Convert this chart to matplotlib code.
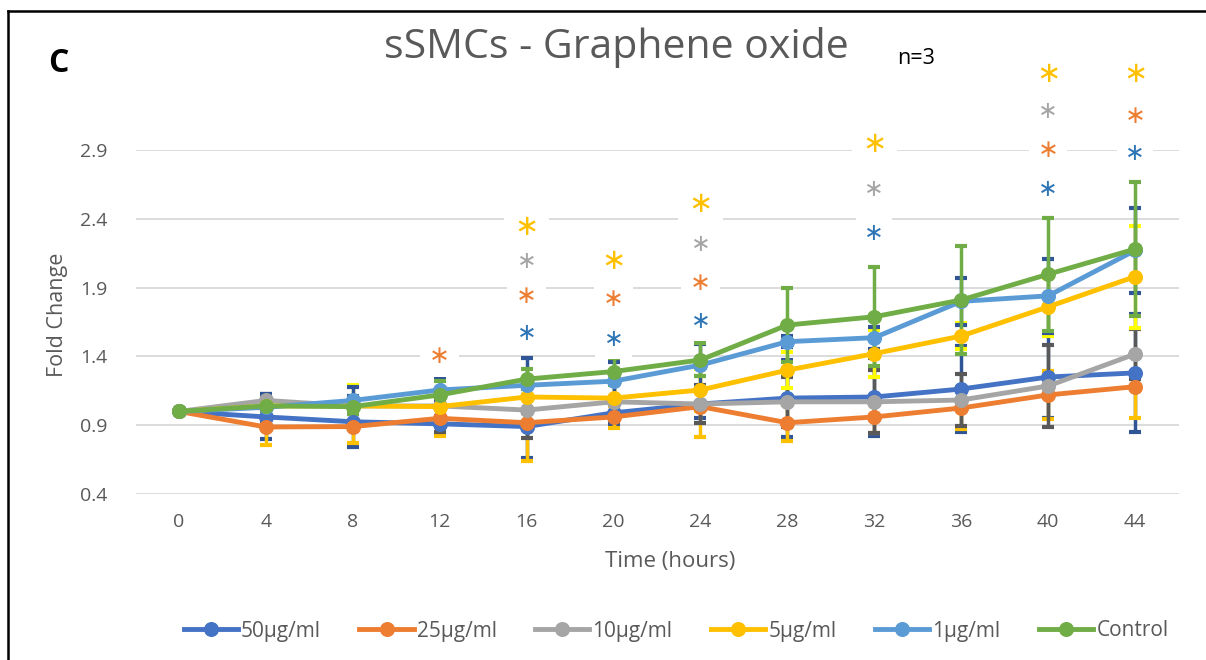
import matplotlib
matplotlib.use("Agg")
import matplotlib.pyplot as plt
from matplotlib.lines import Line2D

# ---- data ----
hours = [0, 4, 8, 12, 16, 20, 24, 28, 32, 36, 40, 44]
series_names = ["50µg/ml", "25µg/ml", "10µg/ml", "5µg/ml", "1µg/ml", "Control"]

v50 = [1.0, 0.96, 0.925, 0.91, 0.89, 0.99, 1.054, 1.097, 1.105, 1.163, 1.25, 1.28]
v25 = [1.0, 0.887, 0.89, 0.95, 0.918, 0.96, 1.035, 0.918, 0.96, 1.025, 1.12, 1.18]
v10 = [1.0, 1.08, 1.04, 1.04, 1.01, 1.07, 1.054, 1.07, 1.07, 1.083, 1.185, 1.417]
v5 = [1.0, 1.04, 1.04, 1.035, 1.105, 1.097, 1.156, 1.30, 1.42, 1.548, 1.76, 1.98]
v1 = [1.0, 1.03, 1.08, 1.156, 1.19, 1.22, 1.337, 1.507, 1.536, 1.80, 1.84, 2.17]
vctrl = [1.0, 1.04, 1.035, 1.12, 1.235, 1.29, 1.374, 1.628, 1.688, 1.81, 1.997, 2.18]

e50 = [0, 0.16, 0.185, 0.06, 0.23, 0.08, 0.10, 0.28, 0.28, 0.31, 0.30, 0.43]
e25 = [0, 0.13, 0.12, 0.13, 0.28, 0.08, 0.22, 0.13, 0.12, 0.15, 0.175, 0.23]
e10 = [0, 0.05, 0.05, 0.19, 0.20, 0.13, 0.14, 0.18, 0.23, 0.19, 0.30, 0.18]
e5 = [0, 0.05, 0.15, 0.10, 0.10, 0.10, 0.15, 0.13, 0.17, 0.095, 0.21, 0.37]
e1 = [0, 0.10, 0.10, 0.08, 0.20, 0.14, 0.15, 0.04, 0.08, 0.17, 0.27, 0.31]
ectrl = [0, 0.05, 0.05, 0.10, 0.07, 0.10, 0.12, 0.27, 0.36, 0.39, 0.41, 0.49]

# significance stars: time, height, series index
star_x = [12, 16, 16, 16, 16, 20, 20, 20, 24, 24, 24, 24, 32, 32, 32, 40, 40, 40, 40, 44, 44, 44]
star_y = [1.40, 1.57, 1.84, 2.09, 2.34, 1.53, 1.82, 2.09, 1.66, 1.93, 2.22, 2.51,
          2.30, 2.62, 2.94, 2.62, 2.90, 3.18, 3.45, 2.88, 3.15, 3.45]
star_s = [1, 0, 1, 2, 3, 0, 1, 3, 0, 1, 2, 3, 0, 2, 3, 0, 1, 2, 3, 0, 1, 3]

yticks = [0.4, 0.9, 1.4, 1.9, 2.4, 2.9]

values = [v50, v25, v10, v5, v1, vctrl]
errors = [e50, e25, e10, e5, e1, ectrl]

line_colors = ["#4472C4", "#ED7D31", "#A5A5A5", "#FFC000", "#5B9BD5", "#70AD47"]
err_colors = ["#2F5597", "#FFC000", "#595959", "#FFFF00", "#2F5597", "#70AD47"]
star_colors = ["#2E75B6", "#ED7D31", "#A5A5A5", "#FFC000"]
star_sizes = [17, 18, 17, 21]

TXT = "#595959"
plt.rcParams['font.family'] = ['Open Sans', 'DejaVu Sans']

fig = plt.figure(figsize=(12.06, 6.6), dpi=100)
ax = fig.add_axes([135.5 / 1206, 1 - 494 / 660, (1178.5 - 135.5) / 1206, (494 - 150) / 660])

for i in range(6):
    ax.errorbar(hours, values[i], yerr=errors[i], fmt='none', ecolor=err_colors[i],
                elinewidth=2.5, capsize=4, capthick=3, zorder=2)
for i in range(6):
    ax.plot(hours, values[i], color=line_colors[i], lw=3.5, marker='o', ms=9.8,
            label=series_names[i], zorder=3 + i)

for x, y, s in zip(star_x, star_y, star_s):
    ax.text(x, y, "∗", ha='center', va='center', fontsize=star_sizes[s],
            color=star_colors[s], family='DejaVu Sans',
            bbox=dict(fc='white', ec='none', boxstyle='square,pad=0.35'),
            clip_on=False, zorder=2.5)

ax.set_xlim(-2, 46)
ax.set_ylim(0.4, 2.9)
ax.set_xticks(hours)
ax.set_xticklabels([str(h) for h in hours])
ax.set_yticks(yticks)
ax.set_yticklabels([f"{t:.1f}" for t in yticks])
ax.grid(axis='y', color='#D9D9D9', lw=1.3)
ax.set_axisbelow(True)
for sp in ax.spines.values():
    sp.set_visible(False)
ax.tick_params(axis='both', length=0, labelsize=14, labelcolor=TXT)
ax.tick_params(axis='y', pad=20)
ax.tick_params(axis='x', pad=14)

fig.text(58 / 1206, 1 - 315 / 660, "Fold Change", rotation=90, ha='center', va='center',
         fontsize=15.5, color=TXT)
fig.text(670 / 1206, 1 - 561 / 660, "Time (hours)", ha='center', va='center',
         fontsize=16, color=TXT)
fig.text(616 / 1206, 1 - 48 / 660, "sSMCs - Graphene oxide", ha='center', va='center',
         fontsize=29.5, color=TXT)
fig.text(916 / 1206, 1 - 58 / 660, "n=3", ha='center', va='center', fontsize=15.5, color='black')
fig.text(58 / 1206, 1 - 63 / 660, "C", ha='center', va='center', fontsize=23,
         fontweight='bold', color='black')

handles, labels = ax.get_legend_handles_labels()
leg = fig.legend(handles, labels, loc='center', bbox_to_anchor=(676 / 1206, 1 - 631 / 660),
                 ncol=6, frameon=False, fontsize=15, handlelength=2.6, handletextpad=0.15,
                 columnspacing=1.85, numpoints=1)
for t in leg.get_texts():
    t.set_color(TXT)

# frame lines of the panel
fig.add_artist(Line2D([8 / 1206, 8 / 1206], [0, 1 - 11 / 660], color='black', lw=1.8))
fig.add_artist(Line2D([8 / 1206, 1], [1 - 11 / 660, 1 - 11 / 660], color='black', lw=1.8))

fig.savefig("out.png", dpi=100)
